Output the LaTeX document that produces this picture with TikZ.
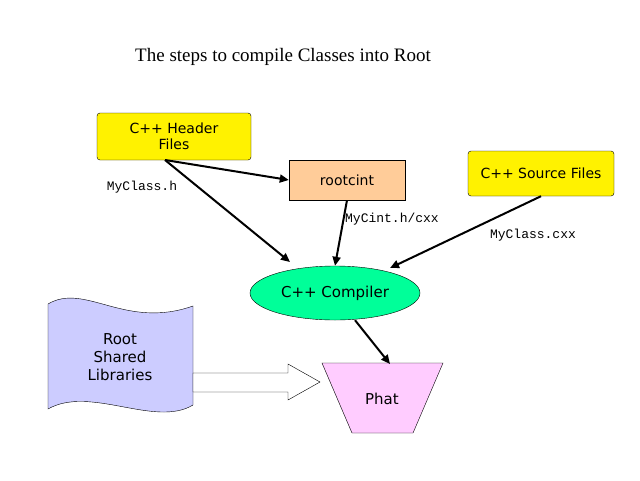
\documentclass[tikz,border=0pt]{standalone}
\usepackage{fontspec}
\setmainfont{Liberation Serif}
\newfontfamily\sansf{DejaVu Sans}
\newfontfamily\monof{Liberation Mono}
\usetikzlibrary{shapes.geometric,arrows.meta}
\begin{document}
\begin{tikzpicture}[x=1pt,y=-1pt,
  box/.style={draw,rounded corners=3pt,font=\sansf\fontsize{14}{16}\selectfont,align=center,inner sep=0},
  arr/.style={-{Triangle[length=9pt,width=8pt]},line width=2pt},
  lab/.style={font=\monof\fontsize{13}{15}\selectfont},
  sans/.style={font=\sansf\fontsize{15}{18}\selectfont,align=center}]
\useasboundingbox (0,0) rectangle (640,480);
\fill[white] (0,0) rectangle (640,480);
\node[font=\fontsize{19}{22}\selectfont] (title) at (283,57) {The steps to compile Classes into Root};
\node[box,fill=yellow,minimum width=154pt,minimum height=47pt] (hdr) at (174,136.5) {C++ Header\\Files};
\node[box,rounded corners=0,fill={rgb,255:red,255;green,204;blue,153},minimum width=116pt,minimum height=40pt] (rc) at (347,180) {rootcint};
\node[box,fill=yellow,minimum width=146pt,minimum height=45pt] (src) at (541,173.5) {C++ Source Files};
\node[draw,ellipse,fill={rgb,255:red,0;green,255;blue,153},minimum width=170pt,minimum height=54pt,sans] (cc) at (335,293) {C++ Compiler};
\draw[fill={rgb,255:red,255;green,204;blue,255}] (322,363) -- (443,363) -- (413,433) -- (352,433) -- cycle;
\node[sans] (phat) at (382,399) {Phat};
\draw[fill={rgb,255:red,204;green,204;blue,255}] (48,304) .. controls (85,282) and (125,330) .. (193,306) -- (193,405) .. controls (155,428) and (90,385) .. (48,409) -- cycle;
\node[sans] (lib) at (120,357) {Root\\Shared\\Libraries};
\draw[fill=white] (193,373) -- (288,373) -- (288,364) -- (320,382) -- (288,400) -- (288,392) -- (193,392) -- cycle;
\coordinate (h1) at (165,160);
\draw[arr] (h1) -- (rc.west);
\draw[arr] (h1) -- (290,262);
\draw[arr] (rc.south) -- (cc.north);
\draw[arr] (src.south) -- (390,268);
\draw[arr] (cc.south) ++(20,0) coordinate (c1) (c1) -- (390,364);
\node[lab] (l1) at (142,187) {MyClass.h};
\node[lab] (l2) at (392,219) {MyCint.h/cxx};
\node[lab] (l3) at (533,235) {MyClass.cxx};
\end{tikzpicture}
\end{document}
